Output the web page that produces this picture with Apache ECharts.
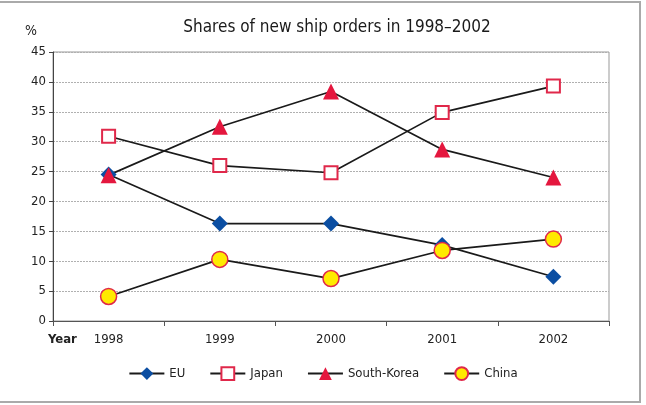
<!DOCTYPE html>
<html><head><meta charset="utf-8">
<script src="https://cdn.jsdelivr.net/npm/echarts@6/dist/echarts.min.js"></script>
<style>html,body{margin:0;padding:0;background:#fff}#c{width:646px;height:405px}</style>
</head><body><div id="c"></div>
<script>
const years = ['1998','1999','2000','2001','2002'];
const eu = [24.5, 16.3, 16.3, 12.7, 7.4];
const japan = [30.9, 26.0, 24.8, 34.9, 39.3];
const southKorea = [24.4, 32.5, 38.4, 28.7, 24.0];
const china = [4.1, 10.3, 7.1, 11.8, 13.7];
const yTicks = {min: 0, max: 45, interval: 5};

// pick the first installed condensed font
function pickFont(cands) {
  const cv = document.createElement('canvas').getContext('2d');
  const s = 'Shares of new ship orders 1998';
  for (const f of cands) {
    cv.font = '20px monospace'; const a = cv.measureText(s).width;
    cv.font = "20px '" + f + "',monospace"; const b = cv.measureText(s).width;
    if (Math.abs(a - b) > 0.5) return "'" + f + "'";
  }
  return 'sans-serif';
}
const FONT = pickFont(['Liberation Sans Narrow', 'DejaVu Sans Condensed', 'Roboto Condensed', 'Liberation Sans']);
const chart = echarts.init(document.getElementById('c'), null, {renderer: 'canvas'});
const lineStyle = {color: '#1a1a1a', width: 1.7};
function ser(name, data, symbol, size, fill, border, bw) {
  return {
    name, type: 'line', data, symbol, symbolSize: size,
    lineStyle, itemStyle: {color: fill, borderColor: border, borderWidth: bw},
    emphasis: {disabled: true}, animation: false, z: 3
  };
}
chart.setOption({
  animation: false,
  textStyle: {fontFamily: FONT},
  graphic: [
    {type: 'rect', shape: {x: -10, y: 2, width: 650, height: 400},
      style: {fill: 'none', stroke: '#aaaaaa', lineWidth: 2}, silent: true, z: 0}
  ],
  title: {text: 'Shares of new ship orders in 1998–2002', left: 332, top: 14, textAlign: 'center',
    textStyle: {fontFamily: FONT, fontSize: 17, fontWeight: 'normal', color: '#1a1a1a'}},
  grid: {left: 53, right: 37, top: 52, bottom: 84, show: true, borderColor: '#999', borderWidth: 1},
  legend: {
    bottom: 19, left: 'center', itemGap: 24, itemWidth: 35, itemHeight: 16,
    textStyle: {fontFamily: FONT, fontSize: 13, color: '#222'},
    data: ['EU', 'Japan', 'South-Korea', 'China']
  },
  xAxis: {
    type: 'category', data: years, boundaryGap: true,
    axisLine: {lineStyle: {color: '#555', width: 1}},
    axisTick: {show: true, length: 5, lineStyle: {color: '#555'}},
    axisLabel: {fontFamily: FONT, fontSize: 13, color: '#222', margin: 12},
    name: 'Year', nameLocation: 'start', nameGap: 0,
    nameTextStyle: {fontFamily: FONT, fontSize: 13, color: '#222', fontWeight: 'bold',
      align: 'left', verticalAlign: 'top', padding: [12, 0, 0, -5]}
  },
  yAxis: {
    type: 'value', min: yTicks.min, max: yTicks.max, interval: yTicks.interval,
    axisLine: {show: true, lineStyle: {color: '#444', width: 1}},
    axisTick: {show: true, length: 4, lineStyle: {color: '#444'}},
    axisLabel: {fontFamily: FONT, fontSize: 13, color: '#222', margin: 7},
    splitLine: {lineStyle: {color: '#b0b0b0', type: [2, 1], width: 1}},
    name: '%', nameLocation: 'end', nameGap: 14,
    nameTextStyle: {fontFamily: FONT, fontSize: 14, color: '#222', align: 'right', padding: [0, 16, 0, 0]}
  },
  series: [
    ser('EU', eu, 'diamond', 16, '#0b4ea2', '#0b4ea2', 0),
    ser('Japan', japan, 'rect', 13, '#ffffff', '#e0284a', 2),
    ser('South-Korea', southKorea, 'triangle', 16, '#e4173e', '#e4173e', 0),
    ser('China', china, 'circle', 16, '#ffea00', '#e0284a', 1.5)
  ]
});
</script></body></html>
